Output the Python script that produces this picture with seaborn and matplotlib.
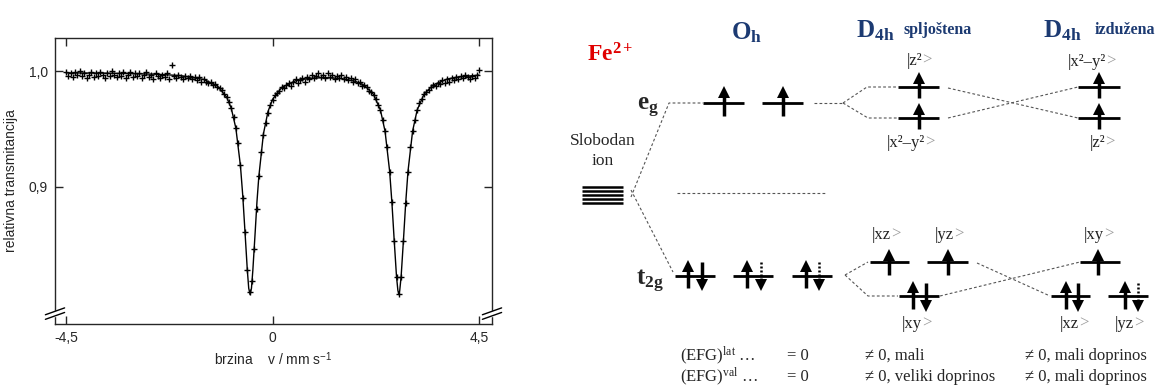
import matplotlib
matplotlib.use("Agg")
import matplotlib.pyplot as plt
import seaborn as sns
import pandas as pd

# ---------------- data: Moessbauer spectrum ----------------
VELOCITY = [
    -4.50, -4.45, -4.40, -4.35, -4.30, -4.25, -4.20, -4.15, -4.10, -4.05,
    -4.00, -3.95, -3.90, -3.85, -3.80, -3.75, -3.70, -3.65, -3.60, -3.55,
    -3.50, -3.45, -3.40, -3.35, -3.30, -3.25, -3.20, -3.15, -3.10, -3.05,
    -3.00, -2.95, -2.90, -2.85, -2.80, -2.75, -2.70, -2.65, -2.60, -2.55,
    -2.50, -2.45, -2.40, -2.35, -2.30, -2.25, -2.20, -2.15, -2.10, -2.05,
    -2.00, -1.95, -1.90, -1.85, -1.80, -1.75, -1.70, -1.65, -1.60, -1.55,
    -1.50, -1.45, -1.40, -1.35, -1.30, -1.25, -1.20, -1.15, -1.10, -1.05,
    -1.00, -0.95, -0.90, -0.85, -0.80, -0.75, -0.70, -0.65, -0.60, -0.55,
    -0.50, -0.45, -0.40, -0.35, -0.30, -0.25, -0.20, -0.15, -0.10, -0.05,
    0.00, 0.05, 0.10, 0.15, 0.20, 0.25, 0.30, 0.35, 0.40, 0.45,
    0.50, 0.55, 0.60, 0.65, 0.70, 0.75, 0.80, 0.85, 0.90, 0.95,
    1.00, 1.05, 1.10, 1.15, 1.20, 1.25, 1.30, 1.35, 1.40, 1.45,
    1.50, 1.55, 1.60, 1.65, 1.70, 1.75, 1.80, 1.85, 1.90, 1.95,
    2.00, 2.05, 2.10, 2.15, 2.20, 2.25, 2.30, 2.35, 2.40, 2.45,
    2.50, 2.55, 2.60, 2.65, 2.70, 2.75, 2.80, 2.85, 2.90, 2.95,
    3.00, 3.05, 3.10, 3.15, 3.20, 3.25, 3.30, 3.35, 3.40, 3.45,
    3.50, 3.55, 3.60, 3.65, 3.70, 3.75, 3.80, 3.85, 3.90, 3.95,
    4.00, 4.05, 4.10, 4.15, 4.20, 4.25, 4.30, 4.35, 4.40, 4.45,
    4.50,
]
TRANSMISSION = [
    0.999, 0.996, 0.998, 0.995, 0.999, 0.997, 1.000, 0.996, 0.998, 0.994,
    0.997, 0.999, 0.995, 0.998, 0.996, 0.999, 0.997, 0.994, 0.998, 0.996,
    1.000, 0.997, 0.995, 0.998, 0.996, 0.999, 0.994, 0.997, 0.999, 0.995,
    0.998, 0.996, 0.998, 0.994, 0.997, 0.999, 0.995, 0.997, 0.993, 0.998,
    0.996, 0.994, 0.997, 0.995, 0.998, 0.993, 1.005, 0.996, 0.994, 0.997,
    0.995, 0.993, 0.996, 0.994, 0.996, 0.993, 0.995, 0.992, 0.995, 0.991,
    0.993, 0.991, 0.990, 0.991, 0.988, 0.989, 0.986, 0.985, 0.984, 0.980,
    0.978, 0.973, 0.968, 0.960, 0.951, 0.938, 0.919, 0.890, 0.861, 0.828,
    0.809, 0.818, 0.846, 0.881, 0.909, 0.930, 0.945, 0.955, 0.964, 0.971,
    0.975, 0.979, 0.981, 0.983, 0.986, 0.985, 0.988, 0.990, 0.987, 0.991,
    0.993, 0.990, 0.992, 0.994, 0.991, 0.995, 0.993, 0.997, 0.994, 0.996,
    0.998, 0.995, 0.997, 0.994, 0.998, 0.995, 0.997, 0.993, 0.996, 0.994,
    0.997, 0.993, 0.995, 0.992, 0.994, 0.991, 0.993, 0.990, 0.991, 0.987,
    0.988, 0.986, 0.983, 0.982, 0.979, 0.976, 0.971, 0.966, 0.958, 0.948,
    0.934, 0.913, 0.887, 0.853, 0.822, 0.807, 0.822, 0.853, 0.886, 0.913,
    0.934, 0.948, 0.958, 0.966, 0.972, 0.976, 0.980, 0.982, 0.984, 0.986,
    0.988, 0.987, 0.990, 0.989, 0.992, 0.990, 0.993, 0.991, 0.994, 0.992,
    0.995, 0.993, 0.996, 0.994, 0.997, 0.995, 0.993, 0.996, 0.994, 0.997,
    1.001,
]
FIT_V = [-4.5, -3.5, -2.5, -2.0, -1.5, -1.2, -1.0, -0.9, -0.8, -0.7, -0.65,
         -0.6, -0.55, -0.52, -0.49, -0.46, -0.43, -0.38, -0.34, -0.3, -0.2,
         -0.1, 0.0, 0.2, 0.5, 0.8, 1.13, 1.5, 1.8, 2.0, 2.2, 2.35, 2.45,
         2.55, 2.6, 2.65, 2.7, 2.73, 2.75, 2.77, 2.8, 2.85, 2.9, 2.95, 3.05,
         3.15, 3.3, 3.5, 3.8, 4.0, 4.5]
FIT_T = [0.9985, 0.9982, 0.9973, 0.9961, 0.9928, 0.9871, 0.9775, 0.9678,
         0.9506, 0.9180, 0.8924, 0.8601, 0.8275, 0.8120, 0.8065, 0.8120,
         0.8275, 0.8600, 0.8870, 0.9086, 0.9456, 0.9650, 0.9756, 0.9859,
         0.9917, 0.9938, 0.9944, 0.9936, 0.9912, 0.9877, 0.9798, 0.9662,
         0.9480, 0.9133, 0.8859, 0.8531, 0.8219, 0.8100, 0.8065, 0.8100,
         0.8219, 0.8531, 0.8859, 0.9133, 0.9480, 0.9664, 0.9801, 0.9881,
         0.9931, 0.9947, 0.9966]
X_TICKS = [-4.5, 0, 4.5]
X_TICKLABELS = ["-4,5", "0", "4,5"]
Y_TICKS = [0.9, 1.0]
Y_TICKLABELS = ["0,9", "1,0"]

# ---------------- style ----------------
sns.set_style("ticks")
plt.rcParams["font.family"] = ["Liberation Sans", "DejaVu Sans"]
plt.rcParams["mathtext.fontset"] = "custom"
plt.rcParams["mathtext.rm"] = "Liberation Serif"
plt.rcParams["mathtext.it"] = "Liberation Serif:italic"
plt.rcParams["mathtext.bf"] = "Liberation Serif:bold"
plt.rcParams["mathtext.sf"] = "Liberation Sans"

W, H = 1155, 387
fig = plt.figure(figsize=(W / 100, H / 100), dpi=100)
fig.patch.set_facecolor("white")

# ---------------- left: spectrum ----------------
ax = fig.add_axes([55 / W, 1 - 324 / H, (492 - 55) / W, (324 - 38) / H])
df = pd.DataFrame({"v": VELOCITY, "t": TRANSMISSION})
fit = pd.DataFrame({"v": FIT_V, "t": FIT_T})
sns.lineplot(data=fit, x="v", y="t", ax=ax, color="black", lw=1.0,
             sort=False, estimator=None, zorder=2)
sns.scatterplot(data=df, x="v", y="t", ax=ax, marker="+", s=22,
                color="black", linewidth=1.0, zorder=3)
ax.set_xlim(-4.74, 4.78)
ax.set_ylim(0.781, 1.0287)
ax.set_xticks(X_TICKS)
ax.set_xticklabels(X_TICKLABELS)
ax.set_yticks(Y_TICKS)
ax.set_yticklabels(Y_TICKLABELS)
ax.tick_params(direction="in", top=True, right=True, length=6, width=1,
               labelsize=10, pad=5)
for s in ax.spines.values():
    s.set_linewidth(1.0)
ax.set_xlabel("brzina    v / mm s$^{\\mathsf{-1}}$", fontsize=10, labelpad=4)
ax.set_ylabel("relativna transmitancija", fontsize=10, labelpad=8)
# axis break marks
yb = (0.79 - 0.781) / (1.0287 - 0.781)
for xa in (0.0, 1.0):
    ax.add_patch(plt.Rectangle((xa - 0.01, yb - 0.008), 0.02, 0.016,
                               transform=ax.transAxes, color="white",
                               clip_on=False, zorder=5))
    for dy in (-0.008, 0.008):
        ax.plot([xa - 0.022, xa + 0.022], [yb + dy - 0.012, yb + dy + 0.012],
                transform=ax.transAxes, color="black", lw=1.0,
                clip_on=False, zorder=6)

# ---------------- right: crystal-field diagram ----------------
dx0 = 566
d = fig.add_axes([dx0 / W, 0, (W - dx0) / W, 1])
d.set_xlim(dx0, W)
d.set_ylim(H, 0)
d.axis("off")

NAVY = "#1c3a72"
RED = "#e00000"
DASH = dict(color="#555555", lw=0.8, ls=(0, (2.5, 2)))
SERIF = "Liberation Serif"


def level(x0, x1, y):
    d.plot([x0, x1], [y, y], color="black", lw=2.0, solid_capstyle="butt")


def arrow(x, y, up=True, dotted=False, half=13):
    top, bot = y - half, y + half
    if up:
        d.plot([x, x], [bot, top + 4], color="black", lw=2.5,
               solid_capstyle="butt")
        d.plot([x], [top + 3.5], marker="^", ms=8, color="black", mew=0)
    else:
        d.plot([x, x], [top, bot - 4], color="black",
               lw=1.8 if dotted else 2.5,
               ls=(0, (0.8, 0.8)) if dotted else "-", solid_capstyle="butt")
        d.plot([x], [bot - 3.5], marker="v", ms=8, color="black", mew=0)


def ket(x, y, txt):
    d.text(x, y, "|" + txt, ha="right", va="center", fontsize=12,
           family=SERIF, color="#222222")
    d.text(x, y, ">", ha="left", va="center", fontsize=12,
           family=SERIF, color="#9a9a9a")


# headers
d.text(587, 61, r"$\mathbf{Fe^{2+}}$", color=RED, fontsize=17, va="baseline", ha="left")
d.text(731, 39, r"$\mathbf{O_h}$", color=NAVY, fontsize=18, va="baseline", ha="left")
d.text(856, 37, r"$\mathbf{D_{4h}}$", color=NAVY, fontsize=18, va="baseline", ha="left")
d.text(904, 34, "spljoštena", color=NAVY, fontsize=11.5, va="baseline", ha="left",
       family=SERIF, weight="bold")
d.text(1043, 37, r"$\mathbf{D_{4h}}$", color=NAVY, fontsize=18, va="baseline", ha="left")
d.text(1095, 34, "izdužena", color=NAVY, fontsize=11.5, va="baseline", ha="left",
       family=SERIF, weight="bold")

# free ion
d.text(603, 151, "Slobodan\nion", ha="center", va="center", fontsize=12.5,
       family=SERIF, linespacing=1.35)
for yy in (187, 191, 195, 199, 203):
    d.plot([582, 623], [yy, yy], color="black", lw=1.8, solid_capstyle="butt")

# e_g / t_2g labels
d.text(637, 110, r"$\mathbf{e_g}$", fontsize=18, ha="left", va="baseline")
d.text(636, 285, r"$\mathbf{t_{2g}}$", fontsize=18, ha="left", va="baseline")

# dashed connectors
d.plot([631, 669, 703], [197, 103, 103], **DASH)
d.plot([631, 673], [190, 272], **DASH)
d.plot([677, 827], [193, 193], **DASH)
d.plot([814, 843], [103, 103], **DASH)
d.plot([843, 867, 898], [103, 87, 87], **DASH)
d.plot([843, 868, 898], [103, 118, 118], **DASH)
d.plot([948, 1078], [88, 118], **DASH)
d.plot([948, 1078], [118, 87], **DASH)
d.plot([845, 868], [275, 262], **DASH)
d.plot([845, 868, 898], [275, 296, 296], **DASH)
d.plot([977, 1050], [263, 296], **DASH)
d.plot([940, 1080], [296, 262], **DASH)

# O_h e_g
for x0, x1 in ((703, 744), (762, 803)):
    level(x0, x1, 103)
    arrow((x0 + x1) / 2, 102, up=True, half=14)
# D4h spljostena e_g
level(898, 939, 87)
arrow(919, 86, up=True, half=12)
level(898, 939, 118)
arrow(919, 117, up=True, half=12)
ket(922, 61, "z²")
ket(925, 143, "x²–y²")
# D4h izduzena e_g
level(1078, 1120, 87)
arrow(1099, 86, up=True, half=12)
level(1078, 1120, 118)
arrow(1099, 117, up=True, half=12)
ket(1106, 62, "x²–y²")
ket(1105, 143, "z²")

# O_h t_2g
level(675, 715, 276)
arrow(688, 275, up=True)
arrow(702, 275, up=False)
level(733, 773, 276)
arrow(747, 275, up=True)
arrow(761, 275, up=False, dotted=True)
level(792, 832, 276)
arrow(806, 275, up=True)
arrow(819, 275, up=False, dotted=True)
# D4h spljostena t_2g
level(870, 909, 262)
arrow(889, 263, up=True, half=12)
level(927, 968, 262)
arrow(948, 263, up=True, half=12)
level(899, 939, 296)
arrow(913, 296, up=True)
arrow(926, 296, up=False)
ket(891, 235, "xz")
ket(954, 235, "yz")
ket(922, 324, "xy")
# D4h izduzena t_2g
level(1080, 1120, 262)
arrow(1098, 263, up=True, half=12)
level(1051, 1090, 296)
arrow(1066, 296, up=True)
arrow(1078, 296, up=False)
level(1108, 1148, 296)
arrow(1125, 296, up=True)
arrow(1138, 296, up=False, dotted=True)
ket(1104, 235, "xy")
ket(1079, 324, "xz")
ket(1134, 324, "yz")

# EFG rows
for yy, sup in ((356, "lat"), (377, "val")):
    d.text(680, yy, "(EFG)$^{\\mathrm{" + sup + "}}$ …", fontsize=12,
           ha="left", va="center", family=SERIF)
    d.text(787, yy, "= 0", fontsize=12, ha="left", va="center", family=SERIF)
d.text(865, 356, "≠ 0, mali", fontsize=12, ha="left", va="center", family=SERIF)
d.text(865, 377, "≠ 0, veliki doprinos", fontsize=12, ha="left", va="center",
       family=SERIF)
d.text(1025, 356, "≠ 0, mali doprinos", fontsize=12, ha="left", va="center",
       family=SERIF)
d.text(1025, 377, "≠ 0, mali doprinos", fontsize=12, ha="left", va="center",
       family=SERIF)

fig.savefig("out.png", dpi=100, facecolor="white")
